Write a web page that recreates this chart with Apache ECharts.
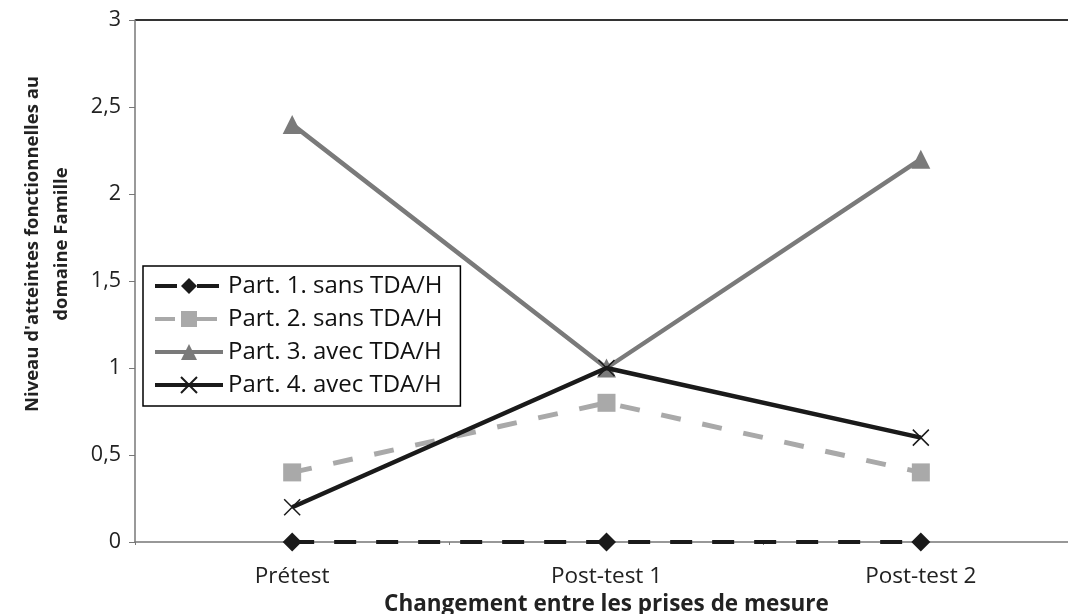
<!DOCTYPE html>
<html><head><meta charset="utf-8">
<script src="https://cdn.jsdelivr.net/npm/echarts@6/dist/echarts.min.js"></script>
<style>html,body{margin:0;padding:0;background:#fff}#c{width:1068px;height:614px}</style>
</head><body><div id="c"></div>
<script>
const categories = ['Prétest', 'Post-test 1', 'Post-test 2'];
const part1 = [0, 0, 0];
const part2 = [0.4, 0.8, 0.4];
const part3 = [2.4, 1.0, 2.2];
const part4 = [0.2, 1.0, 0.6];
const seriesNames = ['Part. 1. sans TDA/H', 'Part. 2. sans TDA/H', 'Part. 3. avec TDA/H', 'Part. 4. avec TDA/H'];
const yTitle = "Niveau d'atteintes fonctionnelles au\ndomaine Famille";
const xTitle = 'Changement entre les prises de mesure';

const FONT = 'Open Sans';
const FS = 22.5;
const chart = echarts.init(document.getElementById('c'), null, {renderer: 'canvas'});
const crossPath = 'path://M0,0L10,10M10,0L0,10';
chart.setOption({
  animation: false,
  backgroundColor: '#fff',
  textStyle: {fontFamily: FONT},
  grid: {left: 135, top: 20, width: 943, height: 522, show: false, containLabel: false, outerBoundsMode: 'none'},
  legend: {
    orient: 'vertical', left: 143, top: 266,
    backgroundColor: '#fff', borderColor: '#000', borderWidth: 1.5,
    padding: [8, 18, 9, 10], itemGap: 9, itemWidth: 68, itemHeight: 20,
    lineStyle: {width: 4},
    textStyle: {fontFamily: FONT, fontSize: 24, color: '#111'},
    data: seriesNames
  },
  xAxis: {
    type: 'category', data: categories, boundaryGap: true,
    axisLine: {lineStyle: {color: '#777', width: 1.5}},
    axisTick: {show: true, length: 3, lineStyle: {color: '#777'}},
    axisLabel: {fontFamily: FONT, fontSize: FS, color: '#222', margin: 23},
    name: xTitle, nameLocation: 'middle', nameGap: 46,
    nameTextStyle: {fontFamily: FONT, fontSize: 22.5, fontWeight: 'bold', color: '#222'}
  },
  yAxis: {
    type: 'value', min: 0, max: 3, interval: 0.5,
    axisLine: {show: true, lineStyle: {color: '#777', width: 1.5}},
    axisTick: {show: true, length: 6, lineStyle: {color: '#777'}},
    splitLine: {show: false},
    axisLabel: {fontFamily: FONT, fontSize: FS - 1, color: '#222', margin: 14,
      formatter: v => String(v).replace('.', ',')},
    name: yTitle, nameLocation: 'middle', nameGap: 59, nameRotate: 90,
    nameTextStyle: {fontFamily: FONT, fontSize: 18.5, fontWeight: 'bold', color: '#222', lineHeight: 29,
      padding: [0, 0, 0, 74]}
  },
  graphic: [{type: 'line', shape: {x1: 135, y1: 20, x2: 1068, y2: 20}, style: {stroke: '#333', lineWidth: 2}}],
  series: [
    {name: seriesNames[0], type: 'line', data: part1, z: 5,
      symbol: 'diamond', symbolSize: 19, itemStyle: {color: '#1a1a1a'},
      lineStyle: {color: '#1a1a1a', width: 4, type: [22, 20]}},
    {name: seriesNames[1], type: 'line', data: part2, z: 3,
      symbol: 'rect', symbolSize: 18, itemStyle: {color: '#a9a9a9'},
      lineStyle: {color: '#a9a9a9', width: 5, type: [20, 22]}},
    {name: seriesNames[2], type: 'line', data: part3, z: 3,
      symbol: 'triangle', symbolSize: 19, itemStyle: {color: '#7a7a7a'},
      lineStyle: {color: '#7a7a7a', width: 4.5}},
    {name: seriesNames[3], type: 'line', data: part4, z: 4,
      symbol: crossPath, symbolSize: 16,
      itemStyle: {color: '#1a1a1a', borderColor: '#1a1a1a', borderWidth: 1.5},
      lineStyle: {color: '#1a1a1a', width: 4.5}}
  ]
});
</script></body></html>
